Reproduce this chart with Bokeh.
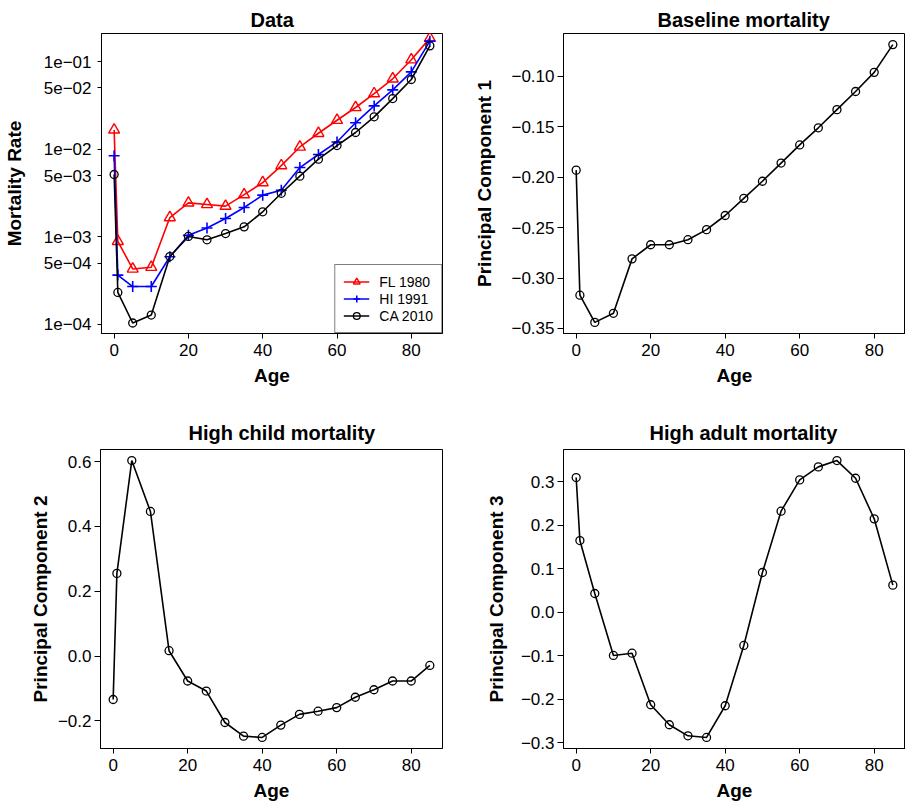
from bokeh.plotting import figure
from bokeh.models import Range1d, FixedTicker, Title
from bokeh.layouts import column, row
from bokeh.embed import file_html
from bokeh.resources import INLINE

# ---------------- data ----------------
age = [0, 1, 5, 10, 15, 20, 25, 30, 35, 40, 45, 50, 55, 60, 65, 70, 75, 80, 85]

fl_1980 = [0.0166, 0.00089, 0.00043, 0.00045, 0.00166, 0.00244, 0.00234, 0.00224, 0.00303, 0.00416,
           0.0065, 0.0106, 0.0152, 0.0214, 0.0299, 0.0431, 0.0636, 0.105, 0.185]
hi_1991 = [0.0084, 0.000366, 0.000271, 0.000271, 0.000592, 0.00104, 0.00126, 0.00162, 0.00216, 0.00299,
           0.0034, 0.00617, 0.0087, 0.0121, 0.0200, 0.0312, 0.0475, 0.0762, 0.171]
ca_2010 = [0.00514, 0.000232, 0.000104, 0.000128, 0.000596, 0.00101, 0.000925, 0.00109, 0.0013, 0.00193,
           0.00314, 0.00492, 0.00769, 0.0110, 0.0155, 0.0234, 0.0378, 0.0624, 0.151]

pc1 = [-0.193, -0.317, -0.344, -0.335, -0.281, -0.267, -0.267, -0.262, -0.252, -0.238,
       -0.221, -0.204, -0.186, -0.168, -0.151, -0.133, -0.115, -0.096, -0.0685]
pc2 = [-0.134, 0.255, 0.603, 0.446, 0.0165, -0.077, -0.108, -0.205, -0.247, -0.251,
       -0.213, -0.180, -0.170, -0.159, -0.127, -0.104, -0.077, -0.077, -0.029]
pc3 = [0.310, 0.165, 0.0433, -0.0992, -0.094, -0.2126, -0.2586, -0.284, -0.2877, -0.2149,
       -0.0762, 0.0916, 0.2326, 0.3046, 0.3345, 0.349, 0.3084, 0.215, 0.0625]

series_labels = ["FL 1980", "HI 1991", "CA 2010"]

age_ticks = [0, 20, 40, 60, 80]
mort_ticks = [1e-4, 5e-4, 1e-3, 5e-3, 1e-2, 5e-2, 1e-1]
mort_tick_labels = ["1e\u221204", "5e\u221204", "1e\u221203", "5e\u221203", "1e\u221202", "5e\u221202", "1e\u221201"]
pc1_ticks = [-0.35, -0.30, -0.25, -0.20, -0.15, -0.10]
pc1_tick_labels = ["\u22120.35", "\u22120.30", "\u22120.25", "\u22120.20", "\u22120.15", "\u22120.10"]
pc2_ticks = [-0.2, 0.0, 0.2, 0.4, 0.6]
pc2_tick_labels = ["\u22120.2", "0.0", "0.2", "0.4", "0.6"]
pc3_ticks = [-0.3, -0.2, -0.1, 0.0, 0.1, 0.2, 0.3]
pc3_tick_labels = ["\u22120.3", "\u22120.2", "\u22120.1", "0.0", "0.1", "0.2", "0.3"]

FONT = "Liberation Sans"


def pad_range(vals, frac=0.04):
    lo, hi = min(vals), max(vals)
    d = (hi - lo) * frac
    return lo - d, hi + d


def panel(title, title_offset, title_standoff, width, height, left, right, top, bottom,
          ylabel, yticks, ylabels, yrange, ylabel_standoff, y_tick_out, y_std,
          x_std, xlabel_standoff, y_type="linear"):
    p = figure(width=width, height=height, output_backend="svg", toolbar_location=None, tools="",
               y_axis_type=y_type,
               title=Title(text=title, align="left", offset=title_offset, standoff=title_standoff,
                           text_font=FONT, text_font_size="20px", text_font_style="bold",
                           text_color="black"),
               min_border_left=left, min_border_right=right, min_border_top=top,
               min_border_bottom=bottom,
               x_range=Range1d(-3.4, 88.4), y_range=Range1d(*yrange))
    p.grid.visible = False
    p.outline_line_color = "black"
    p.outline_line_width = 1
    p.background_fill_color = "white"
    p.border_fill_color = "white"

    xa = p.xaxis[0]
    xa.ticker = FixedTicker(ticks=age_ticks)
    xa.axis_label = "Age"
    xa.major_tick_out = 5
    xa.major_label_standoff = x_std
    xa.axis_label_standoff = xlabel_standoff

    ya = p.yaxis[0]
    ya.ticker = FixedTicker(ticks=yticks)
    ya.major_label_overrides = {t: l for t, l in zip(yticks, ylabels)}
    ya.axis_label = ylabel
    ya.major_tick_out = y_tick_out
    ya.major_label_standoff = y_std
    ya.axis_label_standoff = ylabel_standoff

    for ax in (xa, ya):
        ax.major_tick_in = 0
        ax.minor_tick_line_color = None
        ax.axis_line_color = "black"
        ax.major_tick_line_color = "black"
        ax.major_label_text_font = FONT
        ax.major_label_text_font_size = "17px"
        ax.major_label_text_color = "black"
        ax.axis_label_text_font = FONT
        ax.axis_label_text_font_size = "19px"
        ax.axis_label_text_font_style = "bold"
        ax.axis_label_text_color = "black"
    return p


def pc_series(p, vals):
    p.line(age, vals, line_color="black", line_width=1.6)
    p.scatter(age, vals, marker="circle", size=8, fill_color=None, line_color="black", line_width=1.3)


# ---------------- panel 1: data ----------------
p1 = panel("Data", 149, 5, 450, 400, 100, 8, 33, 67,
           "Mortality Rate", mort_ticks, mort_tick_labels, (10 ** -4.103, 10 ** -0.68),
           16, 4, 6, 5, 6, y_type="log")
p1.line(age, fl_1980, line_color="#ff0000", line_width=1.6, legend_label=series_labels[0])
p1.scatter(age, fl_1980, marker="triangle", size=11, fill_color=None, line_color="#ff0000",
           line_width=1.4, legend_label=series_labels[0])
p1.line(age, hi_1991, line_color="#0000ff", line_width=1.6, legend_label=series_labels[1])
p1.scatter(age, hi_1991, marker="cross", size=11, line_color="#0000ff", line_width=1.6,
           legend_label=series_labels[1])
p1.line(age, ca_2010, line_color="black", line_width=1.6, legend_label=series_labels[2])
p1.scatter(age, ca_2010, marker="circle", size=8, fill_color=None, line_color="black",
           line_width=1.3, legend_label=series_labels[2])

lg = p1.legend[0]
lg.location = "bottom_right"
lg.margin = 0
lg.padding = 8
lg.spacing = 0
lg.glyph_width = 26
lg.glyph_height = 17
lg.label_height = 17
lg.label_standoff = 10
lg.label_text_font = FONT
lg.label_text_font_size = "14px"
lg.label_text_color = "black"
lg.border_line_color = "black"
lg.border_line_width = 1
lg.background_fill_color = "white"
lg.background_fill_alpha = 1.0

# ---------------- panel 2 ----------------
p2 = panel("Baseline mortality", 94, 5, 455, 400, 113, 0, 33, 67,
           "Principal Component 1", pc1_ticks, pc1_tick_labels, pad_range(pc1),
           13, 6, 3, 5, 6)
pc_series(p2, pc1)

# ---------------- panel 3 ----------------
p3 = panel("High child mortality", 88, 11, 450, 403, 100, 8, 49, 55,
           "Principal Component 2", pc2_ticks, pc2_tick_labels, pad_range(pc2),
           4, 6, 3, 5, 6)
pc_series(p3, pc2)

# ---------------- panel 4 ----------------
p4 = panel("High adult mortality", 86, 11, 455, 403, 113, 0, 49, 55,
           "Principal Component 3", pc3_ticks, pc3_tick_labels, pad_range(pc3),
           11, 6, 3, 5, 6)
pc_series(p4, pc3)

layout = column(row(p1, p2), row(p3, p4))

with open("out.html", "w") as f:
    f.write(file_html(layout, INLINE))
